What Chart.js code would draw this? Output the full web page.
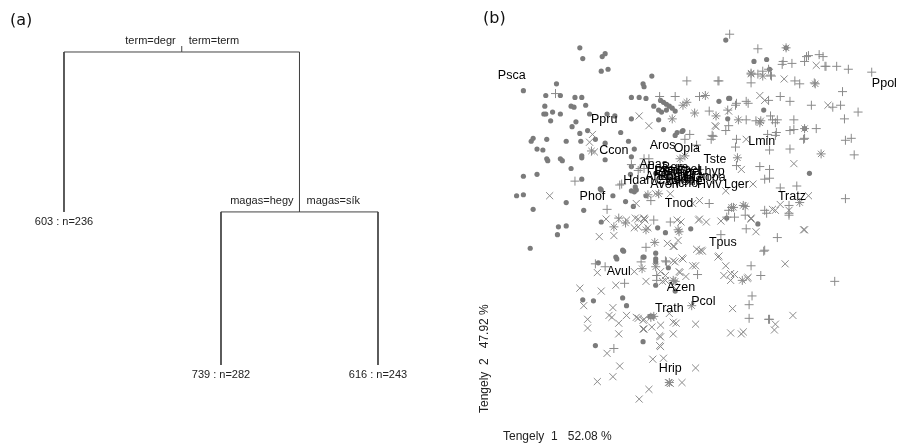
<!DOCTYPE html>
<html>
<head>
<meta charset="utf-8">
<script src="https://cdn.jsdelivr.net/npm/chart.js@4.4.0/dist/chart.umd.min.js"></script>
<style>
  body { margin: 0; background: #fff; }
  #wrap { position: relative; width: 903px; height: 444px; }
  #treeChart { position: absolute; left: 0; top: 0; }
  #ordChart { position: absolute; left: 460px; top: 0; }
</style>
</head>
<body>
<div id="wrap">
  <canvas id="treeChart" width="460" height="444"></canvas>
  <canvas id="ordChart" width="443" height="444"></canvas>
</div>
<script>
// ---- (a) regression tree ----
// node order: root, leaf 603, node "magas", leaf 739, leaf 616
const treeX = [1.75, 1, 2.5, 2, 3];
const treeY = [1, 0.489, 0.489, 0, 0];
const treeParent = [-1, 0, 0, 2, 2];
const splitLeft = ["term=degr", "", "magas=hegy", "", ""];
const splitRight = ["term=term", "", "magas=sík", "", ""];
const leafText = ["", "603 : n=236", "", "739 : n=282", "616 : n=243"];

// ---- (b) ordination scores ----
const dotPoints = [
  [577,43],[580,54],[600,52],[603,49],[599,67],[606,65],[519,87],[553,80],[542,92],[557,92],
  [572,94],[579,94],[541,103],[568,103],[571,104],[583,102],[540,111],[542,111],[549,109],[557,111],
  [547,118],[587,111],[605,111],[613,113],[573,119],[569,124],[577,131],[585,128],[619,130],[529,136],
  [527,139],[543,137],[563,139],[578,139],[593,137],[603,141],[627,139],[533,147],[539,148],[579,154],
  [579,156],[543,157],[544,159],[557,157],[559,159],[603,158],[568,167],[519,175],[533,173],[579,178],
  [512,195],[519,194],[599,189],[611,195],[563,202],[529,209],[581,210],[624,201],[633,191],[635,189],
  [598,188],[555,227],[563,226],[554,235],[526,249],[599,222],[621,251],[614,258],[615,260],[596,264],
  [621,300],[625,308],[580,302],[591,303],[593,349],[642,345],[655,254],[655,260],[642,258],[668,269],
  [655,287],[649,319],[652,319],[622,252],[657,228],[665,233],[691,229],[728,218],[760,224],[643,258],
  [655,263],[675,293],[727,35],[756,57],[769,55],[789,43],[651,72],[642,80],[643,83],[630,94],
  [638,94],[645,95],[653,103],[661,109],[660,97],[663,99],[666,101],[669,103],[672,105],[675,108],
  [658,107],[666,107],[658,117],[630,116],[663,127],[683,128],[677,130],[675,133],[682,129],[730,95],
  [720,98],[731,95],[766,107],[808,126],[772,65],[813,172],[633,147],[630,155],[630,190],[634,186],
  [645,195],[630,165],[629,173],[632,206],[729,116],[655,172],[662,175],[670,178],[678,170],[686,176],
  [694,172]
];
const plusPoints = [
  [552,90],[572,180],[618,184],[605,209],[593,265],[603,268],[623,285],[612,352],[617,218],[665,262],
  [656,277],[656,282],[698,276],[753,267],[763,277],[754,298],[751,307],[751,321],[771,322],[839,283],
  [766,252],[653,220],[670,222],[645,248],[666,263],[722,235],[748,229],[767,251],[640,263],[780,238],
  [772,322],[792,215],[760,44],[687,77],[719,77],[753,79],[659,93],[675,93],[700,93],[737,102],
  [750,100],[710,108],[748,117],[758,118],[730,123],[727,128],[690,132],[712,137],[714,134],[738,137],
  [737,145],[697,143],[643,157],[643,167],[762,165],[738,164],[710,203],[767,178],[767,210],[650,200],
  [730,210],[747,215],[731,29],[771,65],[786,57],[785,60],[795,59],[810,52],[823,50],[827,52],
  [808,57],[829,62],[841,62],[853,65],[877,68],[760,70],[773,71],[765,67],[798,77],[803,80],
  [818,79],[847,88],[720,77],[771,97],[783,93],[793,98],[815,102],[845,102],[837,104],[863,109],
  [849,116],[738,100],[748,98],[729,107],[773,113],[780,117],[797,117],[770,132],[778,133],[797,127],
  [820,126],[807,137],[850,138],[856,136],[713,133],[774,72],[812,51],[830,62],[775,117],[778,120],
  [793,128],[779,130],[808,136],[793,147],[772,148],[859,153],[772,168],[772,177],[783,187],[800,185],
  [850,198],[792,205],[792,213],[728,217],[736,217],[769,213],[685,137],[648,157],[630,163],[637,169],
  [639,167],[620,183],[700,168],[660,182]
];
const crossPoints = [
  [590,132],[587,140],[592,150],[546,195],[597,237],[612,236],[595,274],[577,290],[599,293],[614,287],
  [581,308],[585,322],[585,331],[611,310],[607,318],[610,320],[617,326],[617,337],[625,318],[605,357],
  [618,370],[595,386],[611,381],[604,219],[637,321],[642,323],[642,332],[651,330],[660,328],[659,339],
  [659,349],[652,363],[663,362],[673,337],[676,326],[669,316],[696,327],[696,372],[682,387],[668,387],
  [670,388],[648,394],[638,404],[734,311],[732,336],[743,337],[745,335],[778,327],[777,333],[796,318],
  [788,265],[720,257],[727,267],[732,275],[736,276],[732,282],[750,279],[696,267],[679,273],[686,278],
  [683,260],[675,263],[644,220],[637,227],[633,228],[681,222],[699,220],[707,222],[722,221],[753,218],
  [758,232],[697,250],[702,251],[719,258],[725,277],[749,280],[673,247],[678,241],[673,262],[682,259],
  [665,277],[665,282],[680,274],[660,273],[662,283],[672,287],[645,283],[633,273],[635,320],[643,322],
  [643,332],[660,340],[660,350],[673,325],[807,230],[617,219],[625,220],[637,219],[643,219],[647,228],
  [667,244],[674,247],[677,220],[700,219],[693,267],[700,252],[703,252],[775,209],[783,204],[792,210],
  [778,210],[812,195],[797,162],[808,230],[753,219],[762,92],[767,97],[730,108],[638,113],[648,123],
  [716,123],[748,137],[743,168],[727,190],[755,183],[635,203],[670,193],[655,193],[693,203],[700,200],
  [634,218],[643,218],[820,61],[787,75],[832,102],[717,124],[665,168],[690,180]
];
const starPoints = [
  [655,268],[641,270],[673,282],[692,308],[744,282],[653,319],[669,387],[654,243],[675,283],[650,320],
  [645,230],[678,230],[612,227],[624,223],[679,232],[747,206],[735,207],[706,92],[687,99],[683,102],
  [695,110],[672,116],[717,113],[740,117],[753,70],[765,72],[762,120],[739,156],[658,193],[745,205],
  [733,207],[647,194],[789,43],[753,69],[819,80],[763,118],[825,152],[803,202],[808,126],[680,157],
  [685,154],[589,149],[672,174],[680,180]
];

const speciesNames = ["Psca","Ppol","Ppru","Ccon","Aros","Opla","Lmin","Anas","Tste","Bpin","Fvag","Thel",
  "Ebal","Cfla","Fpse","Bere","Koel","Cvul","Poan","Sfle","Ahol","Fran",
  "Lhyp","Aopa","Hdan","Aven","Acno","Hviv","Lger","Phof","Tnod","Tratz","Tpus","Avul",
  "Azen","Pcol","Trath","Hrip"];
const speciesX = [507,890,602,612,662,687,764,653,716,667,678,690,670,685,660,675,688,668,680,692,657,697,
  712,712,637,664,684,710,738,590,679,795,724,617,681,704,669,670];
const speciesY = [71,80,117,149,143,146,139,163,158,170,171,170,175,176,168,166,168,179,178,180,175,175,
  170,176,179,183,182,184,184,196,203,196,243,273,289,304,311,373];

const treeInk = "#444";
const symbolInk = "#8a8a8a";
const dotInk = "#7b7b7b";

// text drawing for the tree (split rules, leaf labels, panel tag)
const treeTextPlugin = {
  id: "treeText",
  afterDatasetsDraw(chart) {
    const { ctx, scales } = chart;
    ctx.save();
    ctx.fillStyle = "#222";
    ctx.font = "11px 'Liberation Sans', Arial, sans-serif";
    ctx.textBaseline = "middle";
    treeX.forEach((x, i) => {
      const px = scales.x.getPixelForValue(x);
      const py = scales.y.getPixelForValue(treeY[i]);
      if (splitLeft[i]) {
        ctx.textAlign = "right";
        ctx.fillText(splitLeft[i], px - 6, py - 11);
        ctx.textAlign = "left";
        ctx.fillText(splitRight[i], px + 7, py - 11);
      }
      if (leafText[i]) {
        ctx.textAlign = "center";
        ctx.fillText(leafText[i], px, py + 10);
      }
    });
    ctx.font = "16px 'DejaVu Sans', sans-serif";
    ctx.textAlign = "left";
    ctx.fillStyle = "#111";
    ctx.fillText("(a)", 10, 21);
    ctx.restore();
  },
};

// species names and axis captions on the ordination
const ordTextPlugin = {
  id: "ordText",
  afterDatasetsDraw(chart) {
    const { ctx, scales } = chart;
    ctx.save();
    ctx.fillStyle = "#000";
    ctx.font = "12.5px 'Liberation Sans', Arial, sans-serif";
    ctx.textAlign = "center";
    ctx.textBaseline = "middle";
    speciesNames.forEach((name, i) => {
      ctx.fillText(name, scales.x.getPixelForValue(speciesX[i]), scales.y.getPixelForValue(speciesY[i]));
    });
    ctx.fillStyle = "#222";
    ctx.font = "12px 'Liberation Sans', Arial, sans-serif";
    ctx.textAlign = "left";
    ctx.fillText("Tengely  1   52.08 %", 43, 437);
    ctx.translate(25, 413);
    ctx.rotate(-Math.PI / 2);
    ctx.fillText("Tengely  2   47.92 %", 0, 0);
    ctx.restore();
    ctx.save();
    ctx.font = "16px 'DejaVu Sans', sans-serif";
    ctx.fillStyle = "#111";
    ctx.textBaseline = "middle";
    ctx.fillText("(b)", 23, 19);
    ctx.restore();
  },
};

// build tree segments: parent -> child elbow
const treeDatasets = [];
treeParent.forEach((p, i) => {
  if (p < 0) return;
  treeDatasets.push({
    data: [
      { x: treeX[p], y: treeY[p] },
      { x: treeX[i], y: treeY[p] },
      { x: treeX[i], y: treeY[i] },
    ],
    borderColor: treeInk,
    borderWidth: 1,
    pointRadius: 0,
    fill: false,
  });
});
// little stem above the root
treeDatasets.push({
  data: [
    { x: treeX[0], y: treeY[0] },
    { x: treeX[0], y: 1.019 },
  ],
  borderColor: treeInk,
  borderWidth: 1,
  pointRadius: 0,
  fill: false,
});

new Chart(document.getElementById("treeChart"), {
  type: "line",
  data: { datasets: treeDatasets },
  options: {
    responsive: false,
    animation: false,
    parsing: false,
    plugins: { legend: { display: false }, tooltip: { enabled: false } },
    scales: {
      x: { type: "linear", display: false, min: 0.5924, max: 3.5223 },
      y: { type: "linear", display: false, min: -0.2524, max: 1.1661 },
    },
  },
  plugins: [treeTextPlugin],
});

function toXY(points) {
  return points.map((p) => ({ x: p[0], y: p[1] }));
}

new Chart(document.getElementById("ordChart"), {
  type: "scatter",
  data: {
    datasets: [
      { data: toXY(crossPoints), pointStyle: "crossRot", pointRadius: 5, borderColor: symbolInk, borderWidth: 1 },
      { data: toXY(plusPoints), pointStyle: "cross", pointRadius: 4.5, borderColor: symbolInk, borderWidth: 1 },
      { data: toXY(starPoints), pointStyle: "star", pointRadius: 4.5, borderColor: symbolInk, borderWidth: 1 },
      { data: toXY(dotPoints), pointStyle: "circle", pointRadius: 2.6, backgroundColor: dotInk, borderColor: dotInk, borderWidth: 0 },
    ],
  },
  options: {
    responsive: false,
    animation: false,
    plugins: { legend: { display: false }, tooltip: { enabled: false } },
    scales: {
      x: { type: "linear", display: false, min: 460, max: 903 },
      y: { type: "linear", display: false, min: 0, max: 444, reverse: true },
    },
  },
  plugins: [ordTextPlugin],
});
</script>
</body>
</html>
